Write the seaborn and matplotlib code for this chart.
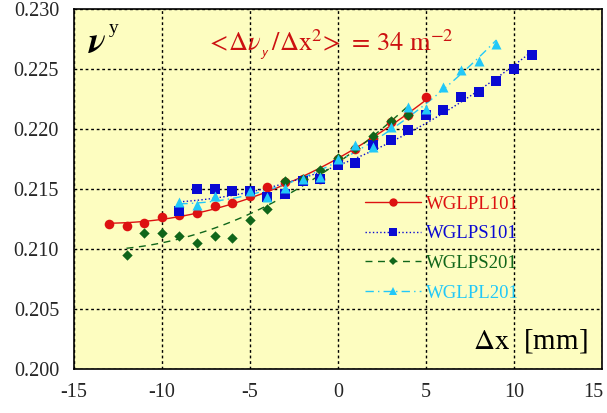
import numpy as np
import matplotlib
matplotlib.use('Agg')
import matplotlib.pyplot as plt
from matplotlib.lines import Line2D
from matplotlib.ticker import MultipleLocator
from matplotlib.transforms import ScaledTranslation
import seaborn as sns

# 数据
x_pl101 = [-13, -12, -11, -10, -9, -8, -7, -6, -5, -4, -3, -2, -1, 0, 1, 2, 3, 4, 5]
y_pl101 = [0.2121, 0.2119, 0.2122, 0.2127, 0.2128, 0.2130, 0.2136, 0.2138, 0.2144, 0.2152,
           0.2156, 0.2158, 0.2158, 0.2175, 0.2183, 0.2192, 0.2206, 0.2212, 0.2227]

x_ps101 = [-9, -8, -7, -6, -5, -4, -3, -2, -1, 0, 1, 2, 3, 4, 5, 6, 7, 8, 9, 10, 11]
y_ps101 = [0.2132, 0.2150, 0.2150, 0.2148, 0.2148, 0.2143, 0.2146, 0.2157, 0.2158, 0.2170,
           0.2172, 0.2187, 0.2191, 0.2199, 0.2212, 0.2216, 0.2227, 0.2231, 0.2240, 0.2250, 0.2262]

x_ps201 = [-12, -11, -10, -9, -8, -7, -6, -5, -4, -3, -2, -1, 0, 1, 2, 3, 4]
y_ps201 = [0.2095, 0.2113, 0.2113, 0.2111, 0.2105, 0.2111, 0.2109, 0.2124, 0.2133, 0.2157,
           0.2158, 0.2166, 0.2176, 0.2184, 0.2194, 0.2207, 0.2212]

x_pl201 = [-9, -8, -7, -5, -4, -3, -2, -1, 0, 1, 2, 3, 4, 5, 6, 7, 8, 9]
y_pl201 = [0.2139, 0.2137, 0.2144, 0.2148, 0.2143, 0.2151, 0.2158, 0.2160, 0.2175, 0.2187,
           0.2185, 0.2202, 0.2218, 0.2217, 0.2235, 0.2249, 0.2257, 0.2271]

labels = ['WGLPL101', 'WGLPS101', 'WGLPS201', 'WGLPL201']
colors = ['#dd1111', '#0a0ad2', '#10661a', '#22c8f8']
markers = ['o', 's', 'D', '^']
msizes = [48, 52, 28, 52]
styles = ['-', ':', (0, (5, 4)), (0, (6, 3, 1, 3))]

x_ticks = [-15, -10, -5, 0, 5, 10, 15]
y_ticks = [0.200, 0.205, 0.210, 0.215, 0.220, 0.225, 0.230]

sns.set_style('white')
plt.rcParams['font.family'] = ['Liberation Serif', 'DejaVu Serif']
plt.rcParams['mathtext.fontset'] = 'stix'
plt.rcParams['axes.unicode_minus'] = False

fig = plt.figure(figsize=(6.07, 4.13), dpi=100)
ax = fig.add_axes([0.1214, 0.1065, 0.8703, 0.8717])
ax.set_facecolor('#fdfdc0')

series = [(x_pl101, y_pl101), (x_ps101, y_ps101), (x_ps201, y_ps201), (x_pl201, y_pl201)]
for i, (xs, ys) in enumerate(series):
    sns.regplot(x=np.array(xs), y=np.array(ys), order=2, ci=None, ax=ax,
                marker=markers[i], color=colors[i], truncate=True,
                scatter_kws={'s': msizes[i], 'linewidths': 0, 'alpha': 1, 'zorder': 3 + i},
                line_kws={'linestyle': styles[i], 'linewidth': 1, 'zorder': 2})

ax.set_xlim(-15, 15)
ax.set_ylim(0.200, 0.230)
ax.set_xticks(x_ticks)
ax.set_yticks(y_ticks)
ax.set_xticklabels([str(t) for t in x_ticks])
ax.set_yticklabels([f'{t:.3f}' for t in y_ticks])
ax.xaxis.set_minor_locator(MultipleLocator(1))
ax.yaxis.set_minor_locator(MultipleLocator(0.001))
ax.tick_params(which='major', direction='inout', length=14, width=1, labelsize=14.5, color='black')
ax.tick_params(which='minor', direction='in', length=6, width=1, color='black')
ax.tick_params(axis='x', pad=3)
ax.grid(True, which='major', color='black', linestyle=(0, (2, 2)), linewidth=1)
ax.set_axisbelow(True)
for s in ax.spines.values():
    s.set_color('black')
    s.set_linewidth(1.2)
ax.set_xlabel('')
ax.set_ylabel('')

# 最右边的刻度标签稍微左移，避免被裁掉
last = ax.get_xticklabels()[-1]
last.set_transform(last.get_transform() + ScaledTranslation(-6 / 72, 0, fig.dpi_scale_trans))

# 文字
ax.text(-14.2, 0.2263, r'$\boldsymbol{\nu}$', fontsize=26, color='black')
ax.text(-13.0, 0.2280, 'y', fontsize=14, color='black')
ax.text(-7.5, 0.2265, r'$<\!\Delta\nu_{_{\mathsf{y}}}\,/\Delta \mathrm{x}^{2}\!>\, =\, 34\ \mathrm{m}^{-2}$',
        fontsize=19, color='#cc1111')
ax.text(14.2, 0.2017, r'$\Delta\mathrm{x}$  [mm]', fontsize=21, color='black', ha='right')

handles = [Line2D([0], [0], color=colors[i], linestyle=styles[i], linewidth=1,
                  marker=markers[i], markersize=6 if i != 2 else 4.5, markeredgewidth=0)
           for i in range(4)]
leg = ax.legend(handles, labels, loc='upper left', bbox_to_anchor=(0.551, 0.482), frameon=False,
                fontsize=13.5, handlelength=3.0, handletextpad=0.25, labelspacing=0.67,
                borderaxespad=0, borderpad=0)
for txt, c in zip(leg.get_texts(), colors):
    txt.set_color(c)

fig.savefig('out.png', dpi=100)
